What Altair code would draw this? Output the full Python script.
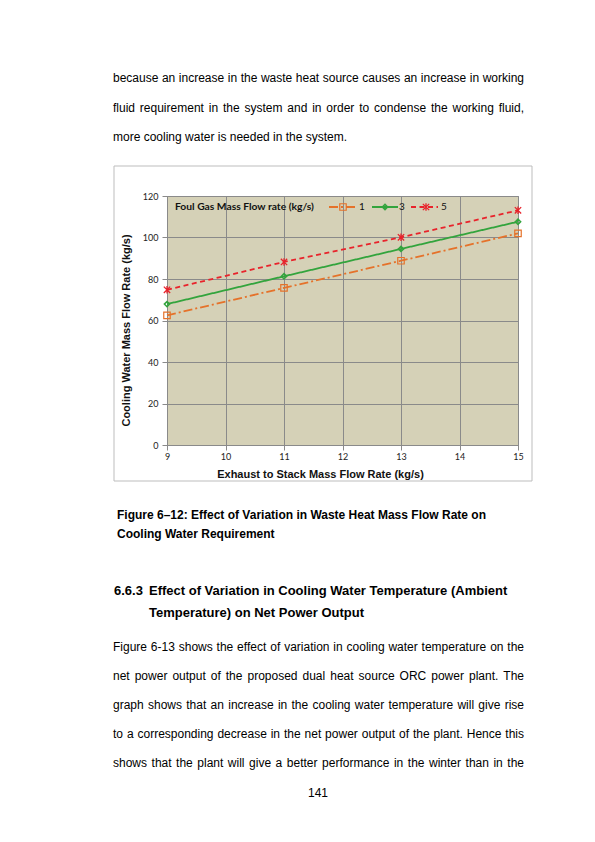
import altair as alt
import pandas as pd

# ---------------- chart data ----------------
x_vals = [9, 11, 13, 15]
series_1 = [62.5, 75.7, 88.8, 102.0]
series_3 = [67.9, 81.3, 94.5, 107.6]
series_5 = [74.8, 88.2, 100.1, 113.1]
series_names = ["1", "3", "5"]
x_ticks = [9, 10, 11, 12, 13, 14, 15]
y_ticks = [0, 20, 40, 60, 80, 100, 120]

legend_title = "Foul Gas Mass Flow rate (kg/s)"
x_title = "Exhaust to Stack Mass Flow Rate (kg/s)"
y_title = "Cooling Water  Mass Flow Rate (kg/s)"

# ---------------- page text ----------------
top_lines = [
    "because an increase in the waste heat source causes an increase in working",
    "fluid requirement in the system and in order to condense the working fluid,",
]
top_last = "more cooling water is needed in the system."
caption_lines = [
    "Figure 6\u201312: Effect of Variation in Waste Heat Mass Flow Rate on",
    "Cooling Water Requirement",
]
heading_num = "6.6.3"
heading_lines = [
    "Effect of Variation in Cooling Water Temperature (Ambient",
    "Temperature) on Net Power Output",
]
bottom_lines = [
    "Figure 6-13 shows the effect of variation in cooling water temperature on the",
    "net power output of the proposed dual heat source ORC power plant. The",
    "graph shows that an increase in the cooling water temperature will give rise",
    "to a corresponding decrease in the net power output of the plant. Hence this",
    "shows that the plant will give a better performance in the winter than in the",
]
page_number = "141"

colors = {"1": "#E5722A", "3": "#33A43D", "5": "#E8232B"}
GRID = "#8A8A8A"
PLOT_BG = "#D5D1B7"

# plot origin on page (px)
OX, OY = 167, 196

# Arial / Helvetica advance widths (per 1000 em)
W = dict(zip("abcdefghijklmnopqrstuvwxyz",
             [556, 556, 500, 556, 556, 278, 556, 556, 222, 222, 500, 222, 833,
              556, 556, 556, 556, 333, 500, 278, 556, 500, 722, 500, 500, 500]))
W.update(zip("ABCDEFGHIJKLMNOPQRSTUVWXYZ",
             [667, 667, 722, 722, 667, 611, 778, 722, 278, 500, 667, 556, 833,
              722, 778, 667, 778, 722, 667, 611, 722, 667, 944, 667, 667, 611]))
W.update({c: 556 for c in "0123456789"})
W.update({".": 278, ",": 278, "-": 333, "(": 333, ")": 333, ":": 278,
          "\u2013": 556, "/": 278, " ": 278})


def wwidth(word, size):
    return sum(W.get(c, 556) for c in word) * size / 1000.0


def justify(line, x0, x1, base, size):
    words = line.split()
    total = sum(wwidth(w, size) for w in words)
    gap = (x1 - x0 - total) / (len(words) - 1)
    rows = []
    x = x0
    for w in words:
        rows.append({"px": x - OX, "py": base - OY, "text": w})
        x += wwidth(w, size) + gap
    return rows


BODY = 12
reg_rows = []
for ln, b in zip(top_lines, [82, 111.5]):
    reg_rows += justify(ln, 113, 524, b, BODY)
reg_rows.append({"px": 113 - OX, "py": 141 - OY, "text": top_last})
for ln, b in zip(bottom_lines, [650.5, 679.5, 708.5, 737.5, 766.5]):
    reg_rows += justify(ln, 113, 524, b, BODY)
reg_df = pd.DataFrame(reg_rows)

cap_df = pd.DataFrame([
    {"px": 117 - OX, "py": 519 - OY, "text": caption_lines[0]},
    {"px": 117 - OX, "py": 538 - OY, "text": caption_lines[1]},
])
head_df = pd.DataFrame([
    {"px": 114 - OX, "py": 595 - OY, "text": heading_num},
    {"px": 149 - OX, "py": 595 - OY, "text": heading_lines[0]},
    {"px": 149 - OX, "py": 616.5 - OY, "text": heading_lines[1]},
])
pn_df = pd.DataFrame([{"px": 318 - OX, "py": 797 - OY, "text": page_number}])

# ---------------- chart ----------------
rows = []
for name, vals in zip(series_names, [series_1, series_3, series_5]):
    for xv, yv in zip(x_vals, vals):
        rows.append({"x": xv, "y": yv, "series": name})
df = pd.DataFrame(rows)

xs = alt.Scale(domain=[9, 15], nice=False, zero=False)
ys = alt.Scale(domain=[0, 120], nice=False)

x_axis = alt.Axis(values=x_ticks, format="d", title=x_title, grid=True,
                  titleX=153, titleY=32, titleAlign="center",
                  titleBaseline="alphabetic")
y_axis = alt.Axis(values=y_ticks, title=y_title, grid=True,
                  titleX=-38, titleY=134, titleAngle=270,
                  titleAlign="center", titleBaseline="alphabetic")

dashes = {"1": [9, 3, 2, 3], "3": [1, 0], "5": [5, 3.5]}
STAR = "M-1,-1L1,1M-1,1L1,-1M0,-1.2L0,1.2"

pt_style = {
    "1": dict(shape="square", filled=False, size=42, strokeWidth=1.2),
    "3": dict(shape="diamond", filled=False, size=28, strokeWidth=1.5),
    "5": dict(shape=STAR, filled=False, size=40, strokeWidth=1.3),
}

one = pd.DataFrame({"a": [0]})

# data layers (share x/y scales; only the first one defines the axes)
data_layers = []
first = True
for name in series_names:
    sub = df[df.series == name]
    if first:
        enc = dict(x=alt.X("x:Q", scale=xs, axis=x_axis),
                   y=alt.Y("y:Q", scale=ys, axis=y_axis))
    else:
        enc = dict(x=alt.X("x:Q", scale=xs), y=alt.Y("y:Q", scale=ys))
    data_layers.append(alt.Chart(sub).mark_line(color=colors[name], strokeWidth=1.8,
                                                strokeDash=dashes[name]).encode(**enc))
    first = False
for name in series_names:
    sub = df[df.series == name]
    data_layers.append(alt.Chart(sub).mark_point(color=colors[name], opacity=1,
                                                 **pt_style[name]).encode(
        x=alt.X("x:Q", scale=xs), y=alt.Y("y:Q", scale=ys)))
plot = alt.layer(*data_layers)

# chart box frame + legend (no scales)
deco = []
deco.append(alt.Chart(one).mark_rect(
    fillOpacity=0, stroke="#BDBDBD", strokeWidth=1
).encode(x=alt.value(114 - OX), x2=alt.value(532 - OX),
         y=alt.value(166 - OY), y2=alt.value(481 - OY)))
LY = 207 - OY
deco.append(alt.Chart(one).mark_text(align="left", baseline="middle", font="Lato",
                                     fontWeight="bold", fontSize=10.3, color="#111111").encode(
    x=alt.value(175 - OX), y=alt.value(LY), text=alt.value(legend_title)))
leg_pos = {"1": (329, 356, 343, 359), "3": (372, 398, 385, 399), "5": (411, 438, 426, 441)}
for name in series_names:
    a, b, m, t = leg_pos[name]
    deco.append(alt.Chart(one).mark_rule(color=colors[name], strokeWidth=1.8,
                                         strokeDash=dashes[name]).encode(
        x=alt.value(a - OX), x2=alt.value(b - OX), y=alt.value(LY)))
    deco.append(alt.Chart(one).mark_point(color=colors[name], opacity=1,
                                          **pt_style[name]).encode(
        x=alt.value(m - OX), y=alt.value(LY)))
    deco.append(alt.Chart(one).mark_text(align="left", baseline="middle", font="Lato",
                                         fontSize=10, color="#111111").encode(
        x=alt.value(t - OX), y=alt.value(LY), text=alt.value(name)))

# page text through identity pixel scales
PXS = alt.Scale(domain=[-OX, 595 - OX], range=[-OX, 595 - OX], nice=False, zero=False)
PYS = alt.Scale(domain=[-OY, 842 - OY], range=[-OY, 842 - OY], nice=False, zero=False)


def text_layer(data, font, size, weight="normal", align="left"):
    return alt.Chart(data).mark_text(align=align, baseline="alphabetic", font=font,
                                     fontSize=size, fontWeight=weight, color="#000000").encode(
        x=alt.X("px:Q", scale=PXS, axis=None),
        y=alt.Y("py:Q", scale=PYS, axis=None),
        text="text:N")


page = alt.layer(
    text_layer(reg_df, "Liberation Sans", BODY),
    text_layer(cap_df, "Liberation Sans", 12, "bold"),
    text_layer(head_df, "Liberation Sans", 13, "bold"),
    text_layer(pn_df, "Liberation Sans", 12, align="center"),
)

chart = alt.layer(*deco[:1], plot, *deco[1:], page).resolve_scale(
    x="independent", y="independent"
).properties(
    width=518 - OX, height=445 - OY,
    autosize=alt.AutoSizeParams(type="none"),
    padding={"left": OX - 8, "top": OY - 8, "right": 60, "bottom": 390},
).configure_view(fill=PLOT_BG, stroke=GRID, strokeWidth=1).configure_axis(
    gridColor=GRID, domainColor=GRID, tickColor=GRID, tickSize=5,
    labelFont="Lato", labelFontSize=9, labelColor="#222222", labelFlush=False,
    titleFont="Liberation Sans", titleFontSize=11, titleFontWeight="bold",
    titleColor="#111111",
).configure_axisX(labelPadding=2).configure_axisY(labelPadding=4)

chart.save("out.html", embed_options={"renderer": "svg", "actions": False})
